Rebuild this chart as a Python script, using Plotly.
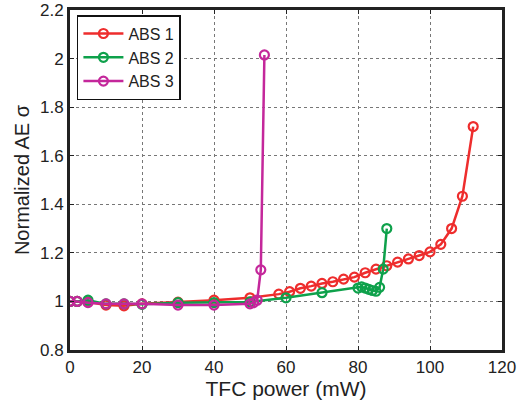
import plotly.graph_objects as go

# TFC power (mW) and normalized AE sigma for each ABS design
abs1_x = [0, 2, 5, 10, 15, 20, 30, 40, 50, 58, 61, 64, 67, 70, 73, 76, 79, 82, 85,
          88, 91, 94, 97, 100, 103, 106, 109, 112]
abs1_y = [1.0, 1.0, 0.998, 0.985, 0.982, 0.99, 0.997, 1.005, 1.015, 1.03, 1.04, 1.054,
          1.063, 1.074, 1.081, 1.092, 1.1, 1.118, 1.133, 1.147, 1.162, 1.175, 1.189,
          1.204, 1.235, 1.3, 1.433, 1.72]

abs2_x = [0, 2, 5, 10, 15, 20, 30, 40, 50, 60, 70, 80, 81, 82, 83, 84, 85, 86, 87, 88]
abs2_y = [1.0, 1.0, 1.005, 0.99, 0.99, 0.988, 0.995, 0.995, 0.998, 1.015, 1.036, 1.055,
          1.06, 1.055, 1.05, 1.045, 1.042, 1.058, 1.133, 1.30]

abs3_x = [0, 2, 5, 10, 15, 20, 30, 40, 50, 51, 52, 53, 54]
abs3_y = [1.0, 1.0, 0.995, 0.99, 0.99, 0.99, 0.985, 0.985, 0.99, 0.995, 1.005, 1.13, 2.015]

series = [
    ("ABS 1", abs1_x, abs1_y, "#ee2d2d"),
    ("ABS 2", abs2_x, abs2_y, "#0ea14b"),
    ("ABS 3", abs3_x, abs3_y, "#c4279b"),
]

x_ticks = [0, 20, 40, 60, 80, 100, 120]
y_ticks = [0.8, 1.0, 1.2, 1.4, 1.6, 1.8, 2.0, 2.2]
y_labels = ["0.8", "1", "1.2", "1.4", "1.6", "1.8", "2", "2.2"]

fig = go.Figure()
for name, xs, ys, color in series:
    fig.add_trace(go.Scatter(
        x=xs, y=ys, name=name, mode="lines+markers",
        line=dict(color=color, width=2.5),
        marker=dict(symbol="circle-open", size=9, color=color, line=dict(width=2.2, color=color)),
    ))

font_family = "Liberation Sans, Arial, sans-serif"
axis_common = dict(
    showline=True, linecolor="#222222", linewidth=3, mirror="ticks",
    ticks="inside", ticklen=4, tickcolor="#222222", tickwidth=1,
    showgrid=True, gridcolor="#777777", griddash="dot", gridwidth=1,
    zeroline=False, automargin=False,
    tickfont=dict(size=17, color="#222222", family=font_family),
)

fig.update_layout(
    width=519, height=406,
    margin=dict(l=70, r=17, t=10, b=56),
    paper_bgcolor="white", plot_bgcolor="white",
    font=dict(family=font_family, color="#222222"),
    showlegend=True,
    legend=dict(
        x=0.016, y=0.985, xanchor="left", yanchor="top",
        bgcolor="white", bordercolor="#111111", borderwidth=1.5,
        font=dict(size=16, color="#222222", family=font_family),
        tracegroupgap=0, itemwidth=40,
    ),
    xaxis=dict(
        range=[0, 120], tickvals=x_ticks,
        title=dict(text="TFC power (mW)", font=dict(size=21, family=font_family), standoff=2),
        **axis_common,
    ),
    yaxis=dict(
        range=[0.8, 2.2], tickvals=y_ticks, ticktext=y_labels,
        title=dict(text="Normalized AE σ", font=dict(size=20, family=font_family), standoff=5),
        **axis_common,
    ),
)

fig.write_html("out.html")
